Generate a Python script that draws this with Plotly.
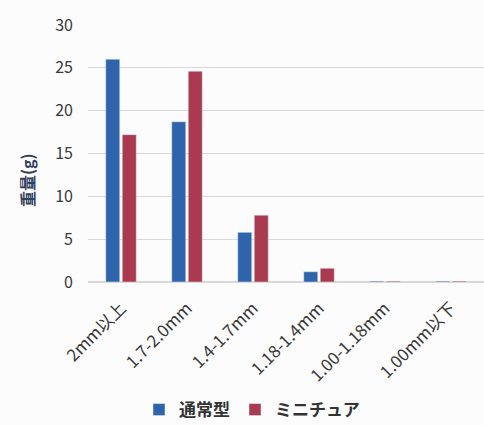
import plotly.graph_objects as go

categories = ["2mm以上", "1.7-2.0mm", "1.4-1.7mm", "1.18-1.4mm", "1.00-1.18mm", "1.00mm以下"]
normal = [26.0, 18.7, 5.8, 1.2, 0.1, 0.1]
mini = [17.2, 24.6, 7.8, 1.6, 0.1, 0.1]
series_names = ["通常型", "ミニチュア"]
y_ticks = [0, 5, 10, 15, 20, 25, 30]
y_title = "重量(g)"

font = "Noto Sans CJK JP"
H = 425
top, bottom = 25, 143
plot_h = H - top - bottom

fig = go.Figure()
fig.add_trace(go.Bar(x=categories, y=normal, name=series_names[0], marker_color="#2f64ab"))
fig.add_trace(go.Bar(x=categories, y=mini, name=series_names[1], marker_color="#aa3a50"))

fig.add_annotation(text=y_title, textangle=-90, xref="paper", yref="paper",
                   x=(27 - 88) / 396, y=(282 - 180) / plot_h, showarrow=False,
                   xanchor="center", yanchor="middle",
                   font=dict(size=16, color="#33405e", family=font, weight=600))

fig.update_layout(
    width=484, height=H,
    margin=dict(l=88, r=0, t=top, b=bottom, autoexpand=False),
    paper_bgcolor="#fcfcfc", plot_bgcolor="#fcfcfc",
    barmode="group", bargap=0.5, bargroupgap=0.15,
    font=dict(family=font, color="#3a3a3a"),
    showlegend=True,
    legend=dict(orientation="h", x=(252 - 88) / 396, xanchor="center",
                y=(282 - 410) / plot_h, yanchor="middle",
                font=dict(size=17, color="#333333", weight=600), traceorder="normal"),
    xaxis=dict(tickangle=-45, tickfont=dict(size=17, color="#3a3a3a"), showgrid=False,
               showline=False, ticks="", automargin=False, ticklabelstandoff=12),
    yaxis=dict(range=[0, 30], tickvals=y_ticks, tickfont=dict(size=16, color="#3a3a3a"),
               gridcolor="#d9d9d9", gridwidth=1, zeroline=True, zerolinecolor="#d9d9d9",
               showline=False, ticks="", ticklabelstandoff=14, automargin=False),
)

fig.write_html("out.html")
